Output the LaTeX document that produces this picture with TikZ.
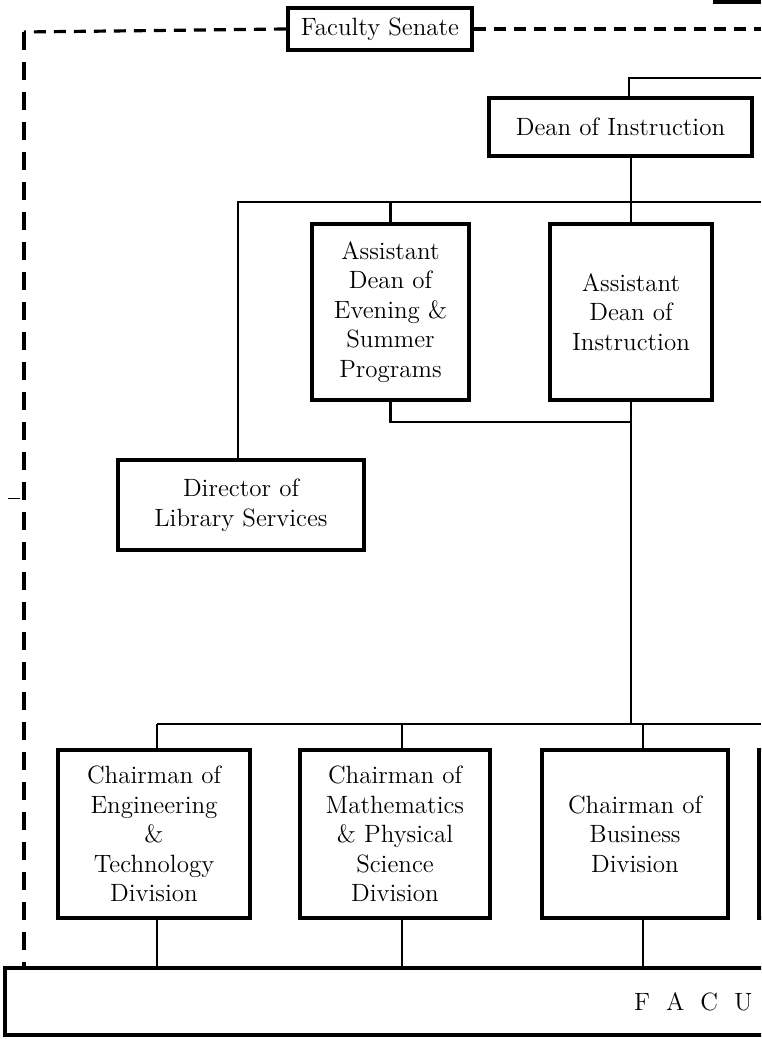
\documentclass[tikz,border=0pt]{standalone}
\usepackage{tikz}
\newcommand{\lgap}{\hspace{8pt}}
\tikzset{
  every picture/.style={font={\fontsize{12.5}{14.8}\selectfont}},
  post/.style={draw, line width=2.1pt, inner sep=0pt, align=center},
  link/.style={line width=1.1pt},
  senate/.style={line width=1.6pt, dash pattern=on 6pt off 4pt},
  senatedown/.style={line width=1.8pt, dash pattern=on 9pt off 6pt}}
\begin{document}
\begin{tikzpicture}[x=0.5pt, y=-0.5pt]
    \useasboundingbox (0,0) rectangle (761,1039);
    \clip (0,0) rectangle (761,1039);

    % posts
    \node[post, minimum width=92pt, minimum height=21pt] (senate) at (380,29) {Faculty Senate};
    \node[post, minimum width=131.5pt, minimum height=29pt] (dean) at (620.5,127) {Dean of Instruction};
    \node[post, minimum width=78.5pt, minimum height=88pt] (asstevening) at (390.5,312)
      {Assistant\\Dean of\\Evening \&\\Summer\\Programs};
    \node[post, minimum width=81pt, minimum height=88pt] (asstinst) at (631,312)
      {Assistant\\Dean of\\Instruction};
    \node[post, minimum width=123pt, minimum height=45pt] (director) at (241,505)
      {Director of\\Library Services};

    \node[post, minimum width=96pt, minimum height=84pt] (chair1) at (154,834)
      {Chairman of\\Engineering\\\&\\Technology\\Division};
    \node[post, minimum width=95pt, minimum height=84pt] (chair2) at (395,834)
      {Chairman of\\Mathematics\\\& Physical\\Science\\Division};
    \node[post, minimum width=93pt, minimum height=84pt] (chair3) at (635,834)
      {Chairman of\\Business\\Division};
    \node[post, minimum width=95pt, minimum height=84pt] (chair4) at (854,834) {};

    \node[post, minimum width=738pt, minimum height=33.5pt] (faculty) at (743,1001.5)
      {F\lgap A\lgap C\lgap U\lgap L\lgap T\lgap Y};

    % free ends
    \coordinate (rightedge) at (761,0);
    \coordinate (deantop) at (629,78);
    \coordinate (bus1) at (0,202);
    \coordinate (join) at (631,422);
    \coordinate (bus2) at (0,724);
    \coordinate (dashcorner) at (24,32);

    % senate
    \draw[senate] (senate.west) -- (dashcorner);
    \draw[senatedown] (dashcorner) -- (dashcorner |- faculty.north);
    \draw[senate] (senate.east) -- (senate.east -| rightedge);

    % instruction
    \draw[link] (deantop |- dean.north) -- (deantop) -- (deantop -| rightedge);
    \draw[link] (asstinst.north |- dean.south) -- (asstinst.north);
    \draw[link] (238,0 |- director.north) -- (238,0 |- bus1) -- (bus1 -| rightedge);
    \draw[link] (asstevening.north) -- (asstevening.north |- bus1);
    \draw[link] (asstevening.south) |- (join);
    \draw[link] (asstinst.south) -- (asstinst.south |- bus2);
    \draw[link] (157,0 |- bus2) -- (bus2 -| rightedge);

    \foreach \n/\dx in {chair1/3, chair2/7, chair3/8} {
      \draw[link] ([xshift=\dx*0.5pt]\n.north |- bus2) -- ([xshift=\dx*0.5pt]\n.north);
      \draw[link] ([xshift=\dx*0.5pt]\n.south) -- ([xshift=\dx*0.5pt]\n.south |- faculty.north);
    }

    % loose marks
    \draw[line width=2pt] (713,2) -- (761,2);
    \draw[line width=0.4pt] (8,498) -- (20,498);
  \end{tikzpicture}
\end{document}
